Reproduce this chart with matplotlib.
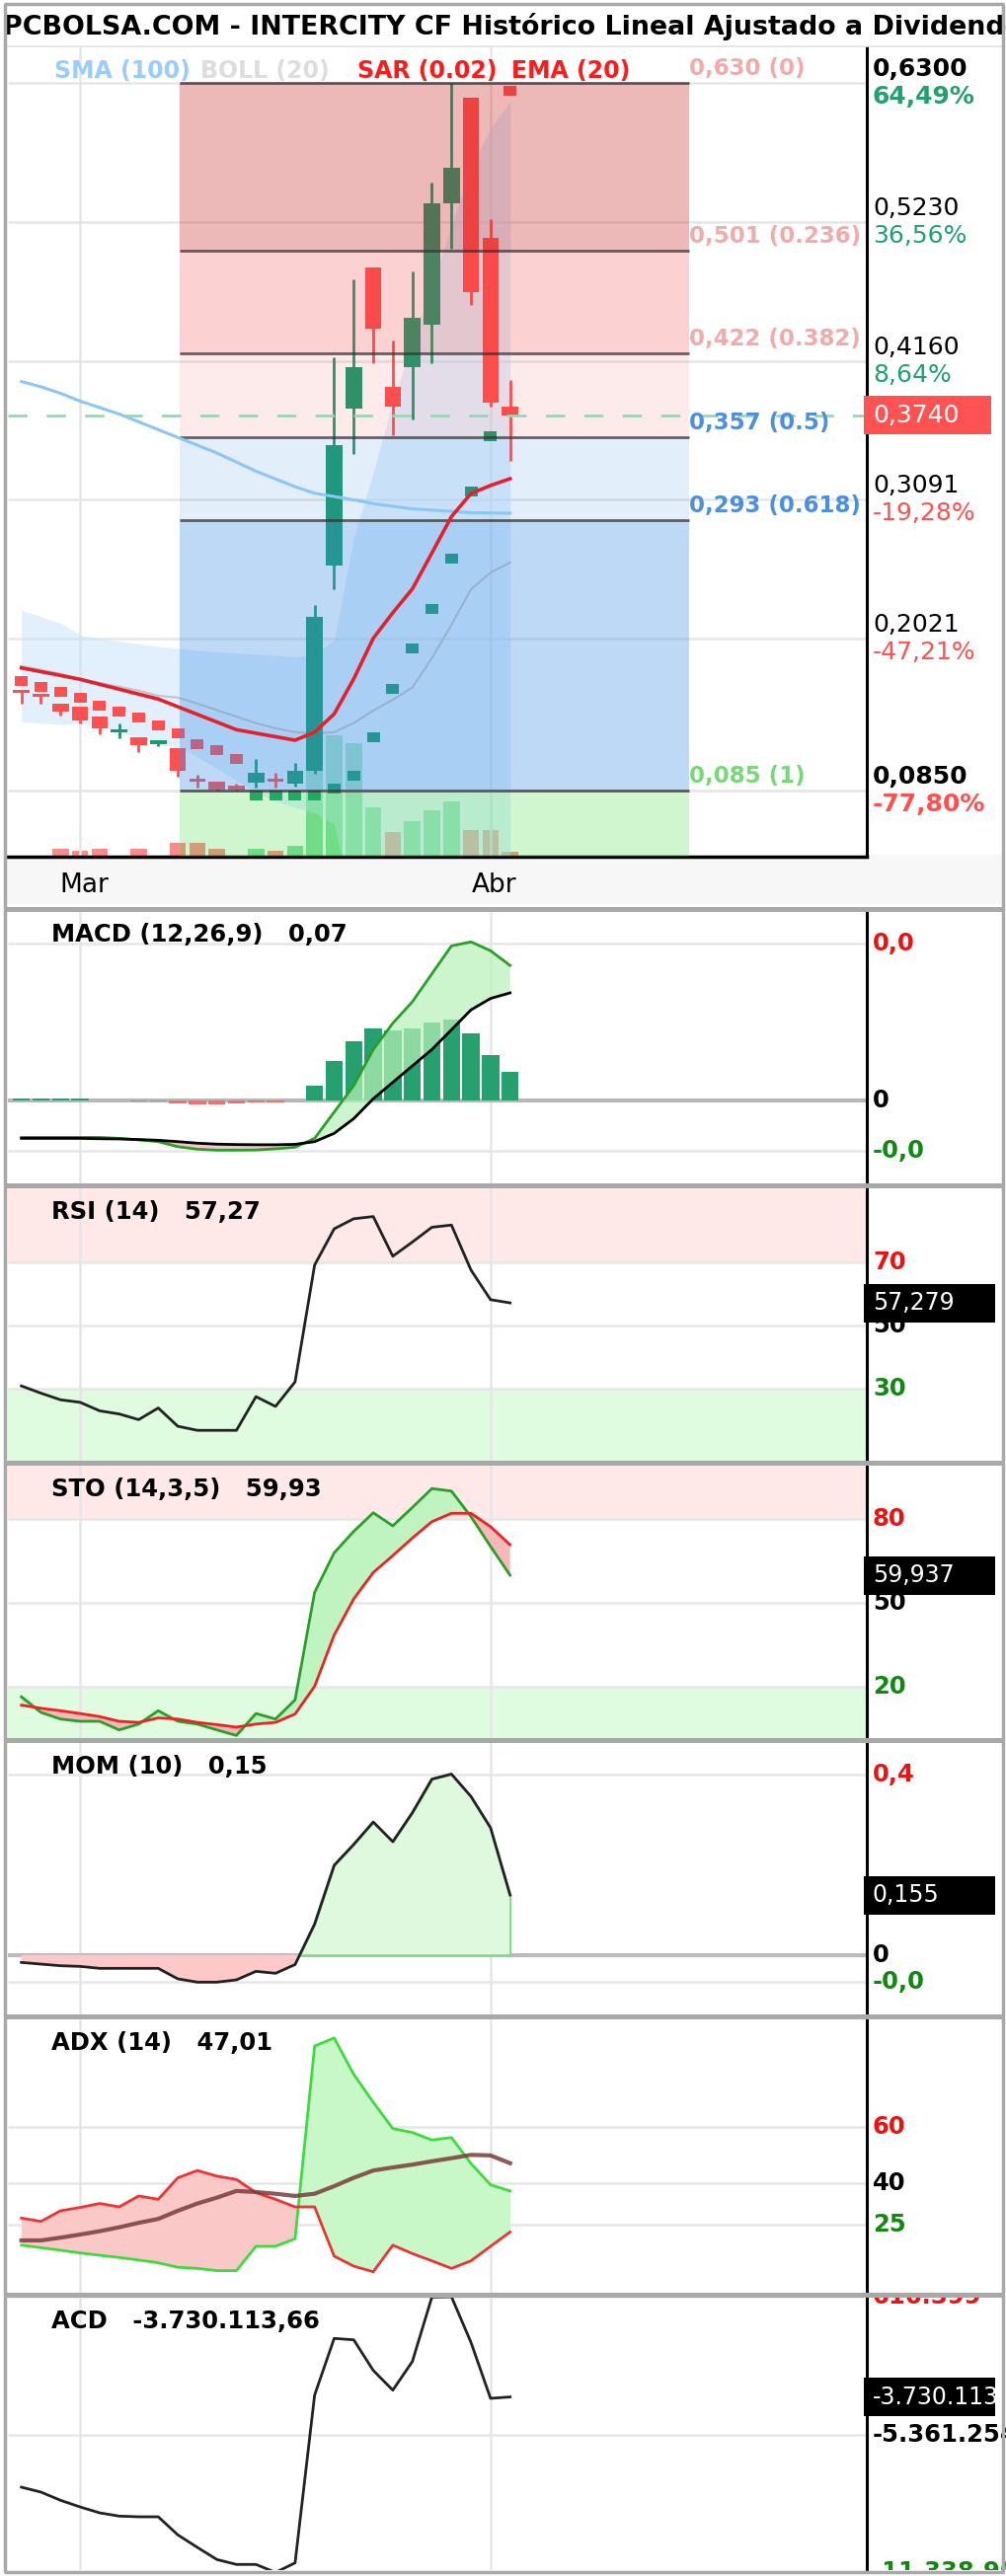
import numpy as np
import matplotlib
matplotlib.use("Agg")
import matplotlib.pyplot as plt
import matplotlib.transforms as mtransforms
from matplotlib.patches import Rectangle

plt.rcParams['font.family'] = ['DejaVu Sans']

# ---------------- data ----------------
days = np.arange(26)
month_pos = [3, 24]
month_labels = ['Mar', 'Abr']

opens = [0.161, 0.158, 0.152, 0.150, 0.142, 0.130, 0.126, 0.121, 0.118, 0.093, 0.092, 0.089, 0.091,
         0.094, 0.090, 0.100, 0.258, 0.379, 0.488, 0.396, 0.411, 0.444, 0.537, 0.619, 0.511, 0.381]
highs = [0.161, 0.158, 0.152, 0.150, 0.142, 0.137, 0.126, 0.124, 0.118, 0.097, 0.092, 0.090, 0.109,
         0.099, 0.106, 0.228, 0.419, 0.479, 0.488, 0.432, 0.485, 0.553, 0.630, 0.619, 0.525, 0.401]
lows = [0.152, 0.152, 0.143, 0.137, 0.128, 0.125, 0.115, 0.119, 0.096, 0.087, 0.085, 0.085, 0.087,
        0.087, 0.088, 0.098, 0.240, 0.344, 0.414, 0.359, 0.371, 0.414, 0.502, 0.459, 0.381, 0.339]
closes = [0.160, 0.157, 0.146, 0.139, 0.133, 0.132, 0.120, 0.124, 0.100, 0.092, 0.086, 0.086, 0.099,
          0.092, 0.100, 0.219, 0.351, 0.411, 0.441, 0.381, 0.449, 0.537, 0.565, 0.469, 0.384, 0.374]
volume = [0, 0, 18, 13, 18, 0, 18, 0, 31, 31, 18, 0, 18, 13, 24, 205, 271, 253, 110, 55, 79, 103,
          123, 59, 59, 11]  # miles de títulos
sar = [0.1694, 0.1648, 0.1608, 0.1567, 0.1504, 0.1458, 0.1415, 0.1352, 0.1289, 0.1205, 0.1162, 0.1093,
       0.0814, 0.0814, 0.0814, 0.0814, 0.0865, 0.0964, 0.1263, 0.1630, 0.1948, 0.2246, 0.2634, 0.3153,
       0.3579, 0.6240]
ema20 = [0.1795, 0.1766, 0.1737, 0.1707, 0.1669, 0.1631, 0.1593, 0.1555, 0.1496, 0.1437, 0.1378, 0.1319,
         0.1292, 0.1265, 0.1238, 0.1300, 0.1440, 0.1710, 0.2023, 0.2220, 0.2403, 0.2680, 0.2960, 0.3138,
         0.3200, 0.3252]
sma100 = [0.400, 0.396, 0.391, 0.385, 0.380, 0.375, 0.369, 0.363, 0.357, 0.351, 0.345, 0.338, 0.331,
          0.325, 0.319, 0.314, 0.3115, 0.309, 0.306, 0.304, 0.302, 0.301, 0.300, 0.299, 0.2988, 0.2986]
boll_up = [0.224, 0.219, 0.214, 0.205, 0.202, 0.200, 0.198, 0.196, 0.1945, 0.193, 0.192, 0.191, 0.190,
           0.189, 0.188, 0.190, 0.201, 0.280, 0.330, 0.385, 0.430, 0.475, 0.520, 0.565, 0.595, 0.616]
boll_mid = [0.181, 0.178, 0.175, 0.171, 0.168, 0.165, 0.162, 0.158, 0.1567, 0.152, 0.147, 0.142, 0.137,
            0.133, 0.130, 0.129, 0.130, 0.137, 0.1466, 0.155, 0.1643, 0.187, 0.2127, 0.240, 0.253, 0.2606]
boll_low = [0.138, 0.137, 0.136, 0.137, 0.134, 0.130, 0.126, 0.120, 0.119, 0.111, 0.102, 0.093, 0.084,
            0.077, 0.072, 0.068, 0.059, -0.006, -0.037, -0.075, -0.100, -0.100, -0.095, -0.085, -0.089,
            -0.095]

fib_levels = [0.630, 0.501, 0.422, 0.357, 0.293, 0.085]
fib_ratios = ['0', '0.236', '0.382', '0.5', '0.618', '1']
fib_span = (8.1, 34.16)

price_ticks = [0.6300, 0.5230, 0.4160, 0.3091, 0.2021, 0.0850]
price_labels = ['0,6300', '0,5230', '0,4160', '0,3091', '0,2021', '0,0850']
pct_labels = ['64,49%', '36,56%', '8,64%', '-19,28%', '-47,21%', '-77,80%']

macd = [-0.0191, -0.0191, -0.0191, -0.0191, -0.0191, -0.0196, -0.0204, -0.0213, -0.0239, -0.0252,
        -0.0257, -0.0257, -0.0256, -0.0250, -0.0242, -0.0196, -0.0060, 0.0077, 0.0264, 0.0400, 0.0511,
        0.0656, 0.0800, 0.0821, 0.0775, 0.0699]
macd_signal = [-0.0196, -0.0196, -0.0196, -0.0196, -0.0198, -0.0199, -0.0202, -0.0206, -0.0213, -0.0221,
               -0.0226, -0.0228, -0.0229, -0.0229, -0.0227, -0.0213, -0.0170, -0.0094, 0.0009, 0.0094,
               0.0179, 0.0264, 0.0366, 0.0469, 0.0528, 0.0557]
macd_hist = [0.001, 0.001, 0.001, 0.001, 0, 0, -0.0006, -0.0006, -0.0015, -0.002, -0.002, -0.0015,
             -0.0008, -0.0008, 0, 0.0077, 0.0204, 0.0307, 0.0375, 0.0363, 0.0375, 0.0404, 0.042, 0.0349,
             0.0234, 0.0148]
rsi = [30.9, 28.6, 26.5, 25.7, 23.0, 22.0, 20.2, 23.9, 18.1, 16.8, 16.8, 16.8, 27.5, 24.4, 32.2, 69.3,
       80.8, 84.0, 84.7, 72.1, 76.6, 81.3, 82.0, 67.7, 58.3, 57.279]
sto_k = [16.2, 10.6, 8.2, 7.4, 7.4, 4.3, 6.4, 11.2, 7.4, 6.4, 4.3, 2.3, 10.2, 8.2, 15.1, 53.8, 68.0,
         75.7, 82.4, 77.7, 84.3, 91.1, 90.2, 81.0, 70.3, 59.937]
sto_d = [13.2, 12.1, 11.2, 10.2, 9.1, 7.4, 7.0, 8.6, 8.2, 7.0, 6.2, 5.3, 6.4, 7.0, 10.0, 20.0, 38.4,
         51.4, 60.9, 67.0, 73.3, 79.2, 82.2, 82.2, 77.4, 70.9]
mom = [-0.0195, -0.0238, -0.028, -0.0297, -0.0348, -0.0348, -0.0348, -0.0348, -0.062, -0.0705, -0.0705,
       -0.0646, -0.0425, -0.0476, -0.025, 0.08, 0.232, 0.286, 0.344, 0.293, 0.368, 0.455, 0.468, 0.41,
       0.329, 0.155]
di_plus = [17.7, 16.8, 15.9, 14.9, 14.1, 13.3, 12.4, 11.4, 9.8, 9.4, 8.6, 8.6, 17.3, 17.3, 20.0, 88.9,
           91.8, 78.8, 68.8, 59.4, 58.0, 55.3, 56.2, 46.9, 39.3, 37.1]
di_minus = [27.4, 26.2, 30.0, 31.2, 32.6, 31.4, 35.3, 34.1, 41.8, 44.4, 42.4, 41.2, 36.5, 34.1, 31.4,
            31.4, 13.8, 10.2, 8.2, 17.7, 14.7, 12.1, 9.4, 12.1, 17.3, 22.4]
adx = [19.4, 19.4, 20.4, 21.5, 22.7, 24.1, 25.7, 27.1, 30.0, 32.6, 34.7, 37.1, 36.7, 36.1, 35.3, 36.1,
       38.8, 41.8, 44.4, 45.5, 46.5, 47.7, 48.8, 50.0, 49.8, 47.01]
acd = [-7642000, -7856000, -8211000, -8498000, -8755000, -8896000, -8926000, -8926000, -9709000,
       -10252000, -10779000, -10992000, -10992000, -11338907, -10924000, -3650000, -1193000, -1254000,
       -2580000, -3436000, -2195000, 600000, 616399, -1365000, -3791000, -3730113.66]
acd_ticks = [616399, -5361254, -11338907]
acd_labels = ['616.399', '-5.361.254', '-11.338.907']

# ---------------- layout (pixels) ----------------
W, H = 1020, 2610
GREEN = '#1b9a6e'
RED = '#ff4f4f'
GRID = '#e6e6e6'
XL = (-0.692, 43.25)

fig = plt.figure(figsize=(W / 100, H / 100), dpi=100)
fig.patch.set_facecolor('white')


def px_axes(x0, y0, x1, y1, z=1):
    a = fig.add_axes([x0 / W, 1 - y1 / H, (x1 - x0) / W, (y1 - y0) / H])
    a.set_zorder(z)
    return a


def clean(a, yl):
    a.set_xlim(XL)
    a.set_ylim(yl)
    a.set_xticks([])
    a.set_yticks([])
    for s in ('top', 'left', 'bottom'):
        a.spines[s].set_visible(False)
    a.spines['right'].set_color('black')
    a.spines['right'].set_linewidth(2.2)


def right_label(a, v, s, color='black', weight='bold', dy=0, va='center', size=17.5):
    tr = mtransforms.blended_transform_factory(a.transAxes, a.transData)
    return a.annotate(s, xy=(1, v), xycoords=tr, xytext=(6, dy), textcoords='offset pixels',
                      va=va, ha='left', color=color, fontweight=weight, fontsize=size,
                      annotation_clip=False)


def header(a, s):
    a.annotate(s, xy=(0, 1), xycoords='axes fraction', xytext=(44, -25), textcoords='offset pixels',
               va='center', ha='left', fontsize=17.5, fontweight='bold')


def value_tag(a, v, s, fc, x_right=1008, size=17):
    y = a.transData.transform((0, v))[1]
    x0 = a.transAxes.transform((1, 0))[0]
    rect = Rectangle((x0 - 3, y - 19.5), x_right - x0 + 3, 39, transform=mtransforms.IdentityTransform(),
                     facecolor=fc, edgecolor='none', zorder=20)
    fig.add_artist(rect)
    t = fig.text((x0 + 6) / W, y / H, s, color='white', fontsize=size, va='center', ha='left', zorder=21)
    t.set_clip_path(rect)


def grids(a, vals, lw=1.8):
    a.hlines(vals, XL[0], XL[1], color=GRID, lw=lw, zorder=0)
    for m in month_pos:
        a.axvline(m, color=GRID, lw=1.8, zorder=0)


# ---------------- main price panel ----------------
ax_vol = px_axes(8, 48, 878, 868, z=1)
ax_vol.set_xlim(XL)
ax_vol.set_ylim(0, 1807)
ax_vol.axis('off')
up_vol = np.r_[False, np.diff(closes) >= 0]
ax_vol.bar(days, volume, width=0.84, color=np.where(up_vol, '#28c85a', '#ff3c3c'), alpha=0.6, lw=0)

ax = px_axes(8, 48, 878, 868, z=2)
ax.patch.set_alpha(0)
clean(ax, (0.0341, 0.6574))
ax.spines['bottom'].set_visible(True)
ax.spines['bottom'].set_linewidth(2.5)
grids(ax, price_ticks)

ax.fill_between(days, boll_low, boll_up, color='#c4e2fa', alpha=0.5, lw=0, zorder=1)
ax.plot(days, boll_mid, color='#c4c4c4', lw=1.5, zorder=1.5)

o, hi, lo, c = map(np.asarray, (opens, highs, lows, closes))
ccol = np.where(c >= o, GREEN, RED)
ax.vlines(days, lo, hi, color=ccol, lw=2, zorder=2)
ax.bar(days, np.maximum(np.abs(c - o), 0.0025), bottom=np.minimum(o, c), width=0.84, color=ccol,
       lw=0, zorder=2.2)
sar_a = np.asarray(sar)
ax.bar(days, 0.0076, bottom=sar_a - 0.0038, width=0.66, lw=0, zorder=2.3,
       color=np.where(sar_a > c, RED, GREEN))

band_style = [('#c82828', 0.33), ('#f03c3c', 0.23), ('#f03c3c', 0.10),
              ('#3c8ce6', 0.14), ('#3c8ce6', 0.33), ('#3cdc3c', 0.24)]
band_edges = fib_levels + [ax.get_ylim()[0]]
for k, (col, al) in enumerate(band_style):
    ax.fill_between(fib_span, band_edges[k + 1], band_edges[k], color=col, alpha=al, lw=0, zorder=3)
ax.hlines(fib_levels, fib_span[0], fib_span[1], color='#333333', lw=2, alpha=0.75, zorder=4)
fib_colors = ['#f2aaaa', '#f2aaaa', '#f2aaaa', '#4a8fe0', '#4a8fe0', '#78d878']
for lvl, r, col in zip(fib_levels, fib_ratios, fib_colors):
    ax.annotate(f"{lvl:.3f}".replace('.', ',') + f" ({r})", xy=(fib_span[1], lvl), xytext=(0, 8),
                textcoords='offset pixels', va='baseline', ha='left', color=col, fontsize=16.5,
                fontweight='bold', annotation_clip=False, zorder=6)

ax.plot(days, sma100, color='#8cc6f5', lw=2.2, zorder=5)
ax.plot(days, ema20, color='#e3202b', lw=2.6, zorder=5)
ax.axhline(closes[-1], color='#9fd3b5', lw=2, dashes=(7, 7), zorder=5)

for k, (v, s, p) in enumerate(zip(price_ticks, price_labels, pct_labels)):
    w = 'bold' if k in (0, len(price_ticks) - 1) else 'normal'
    right_label(ax, v, s, weight=w, dy=2, va='bottom', size=18)
    right_label(ax, v, p, color='#22a070' if v > closes[-1] else RED, weight=w, dy=-2, va='top', size=18)
value_tag(ax, closes[-1], '0,3740', '#ff5252', x_right=1004, size=18)

xtr = mtransforms.blended_transform_factory(ax.transData, ax.transAxes)
for m, lab in zip(month_pos, month_labels):
    ax.annotate(lab, xy=(m, 0), xycoords=xtr, xytext=(4, -29), textcoords='offset pixels',
                ha='center', va='center', fontsize=19, annotation_clip=False)

# title + legend row
fig.text(3 / W, 1 - 27 / H, 'PCBOLSA.COM - INTERCITY CF Histórico Lineal Ajustado a Dividendos',
         fontsize=19.4, fontweight='bold', va='center', ha='left')
for xp, s, col in [(55, 'SMA (100)', '#99ccff'), (203, 'BOLL (20)', '#dddddd'),
                   (362, 'SAR (0.02)', '#ff1a1a'), (518, 'EMA (20)', '#ff1a1a')]:
    fig.text(xp / W, 1 - 72 / H, s, color=col, fontsize=17, fontweight='bold', va='center', zorder=30)

# ---------------- MACD ----------------
am = px_axes(8, 922, 878, 1199)
clean(am, (-0.0429, 0.0986))
grids(am, [0.081, -0.026])
am.axhline(0, color='#b8b8b8', lw=3, zorder=0.5)
hist = np.asarray(macd_hist)
am.bar(days, hist, width=0.88, color=np.where(hist >= 0, '#26a06e', '#ff6b6b'), lw=0, zorder=1)
mc, ms = np.asarray(macd), np.asarray(macd_signal)
am.fill_between(days, mc, ms, where=mc >= ms, interpolate=True, color='#b8f2b8', alpha=0.7, lw=0, zorder=2)
am.fill_between(days, mc, ms, where=mc < ms, interpolate=True, color='#f6b8b8', alpha=0.8, lw=0, zorder=2)
am.plot(days, mc, color='#2a9e2a', lw=2, zorder=3)
am.plot(days, ms, color='black', lw=2, zorder=3)
right_label(am, 0.081, '0,0', color='#ee1111')
right_label(am, 0, '0')
right_label(am, -0.026, '-0,0', color='#118811')
header(am, 'MACD (12,26,9)   0,07')

# ---------------- RSI ----------------
ar = px_axes(8, 1203, 878, 1480)
clean(ar, (7.15, 93.98))
ar.axhspan(70, 100, color='#ffe8e8', lw=0, zorder=0)
ar.axhspan(0, 30, color='#e0fce0', lw=0, zorder=0)
grids(ar, [70, 50, 30])
ar.plot(days, rsi, color='#222222', lw=2, zorder=3)
right_label(ar, 70, '70', color='#ee1111')
right_label(ar, 50, '50')
right_label(ar, 30, '30', color='#118811')
header(ar, 'RSI (14)   57,27')
value_tag(ar, rsi[-1], '57,279', 'black')

# ---------------- STO ----------------
ast = px_axes(8, 1484, 878, 1761)
clean(ast, (1.37, 99.7))
ast.axhspan(80, 100, color='#ffe8e8', lw=0, zorder=0)
ast.axhspan(0, 20, color='#e0fce0', lw=0, zorder=0)
grids(ast, [80, 50, 20])
k_, d_ = np.asarray(sto_k), np.asarray(sto_d)
ast.fill_between(days, k_, d_, where=k_ >= d_, interpolate=True, color='#bff3bf', lw=0, zorder=2)
ast.fill_between(days, k_, d_, where=k_ < d_, interpolate=True, color='#f7b8b8', lw=0, zorder=2)
ast.plot(days, k_, color='#2a9e2a', lw=2, zorder=3)
ast.plot(days, d_, color='#ee2222', lw=2, zorder=3)
right_label(ast, 80, '80', color='#ee1111')
right_label(ast, 50, '50')
right_label(ast, 20, '20', color='#118811')
header(ast, 'STO (14,3,5)   59,93')
value_tag(ast, sto_k[-1], '59,937', 'black')

# ---------------- MOM ----------------
amo = px_axes(8, 1765, 878, 2041)
clean(amo, (-0.154, 0.551))
grids(amo, [0.466, -0.0705])
amo.axhline(0, color='#bbbbbb', lw=3, zorder=0.5)
mo = np.asarray(mom)
amo.fill_between(days, mo, 0, where=mo >= 0, interpolate=True, facecolor='#dff9df',
                 edgecolor='#84d884', lw=1.5, zorder=1)
amo.fill_between(days, mo, 0, where=mo < 0, interpolate=True, facecolor='#fcc8c8', lw=0, zorder=1)
amo.plot(days, mo, color='#222222', lw=2, zorder=3)
right_label(amo, 0.466, '0,4', color='#ee1111')
right_label(amo, 0, '0')
right_label(amo, -0.0705, '-0,0', color='#118811')
header(amo, 'MOM (10)   0,15')
value_tag(amo, mom[-1], '0,155', 'black')

# ---------------- ADX ----------------
aa = px_axes(8, 2045, 878, 2323)
clean(aa, (0.7, 98.8))
grids(aa, [60, 40, 25])
dp, dm = np.asarray(di_plus), np.asarray(di_minus)
aa.fill_between(days, dp, dm, where=dp >= dm, interpolate=True, color='#c8f7c8', lw=0, zorder=1)
aa.fill_between(days, dp, dm, where=dp < dm, interpolate=True, color='#fbc8c8', lw=0, zorder=1)
aa.plot(days, dp, color='#3ddc3d', lw=2, zorder=3)
aa.plot(days, dm, color='#ee3333', lw=2, zorder=3)
aa.plot(days, adx, color='#7a3b3b', lw=3, alpha=0.85, zorder=3)
right_label(aa, 60, '60', color='#ee1111')
right_label(aa, 40, '40')
right_label(aa, 25, '25', color='#118811')
header(aa, 'ADX (14)   47,01')

# ---------------- ACD ----------------
ac = px_axes(8, 2327, 878, 2604)
clean(ac, (-11236180, 616373))
grids(ac, acd_ticks)
ac.plot(days, acd, color='#222222', lw=2, zorder=3)
clip_bb = mtransforms.Bbox.from_extents(878, H - 2604, W, H - 2327)
for v, s, col in zip(acd_ticks, acd_labels, ['#ee1111', 'black', '#118811']):
    t = right_label(ac, v, s, color=col)
    t.set_clip_box(clip_bb)
    t.set_clip_on(True)
header(ac, 'ACD   -3.730.113,66')
value_tag(ac, acd[-1], '-3.730.113,66', 'black')

# ---------------- frame, separators, x-label strip ----------------
fig.add_artist(Rectangle((7, 2 + H - 918), 1008, 50, transform=mtransforms.IdentityTransform(),
                         facecolor='#f7f7f7', edgecolor='none', zorder=-1))
ov = fig.add_axes([0, 0, 1, 1])
ov.set_zorder(10)
ov.set_xlim(0, W)
ov.set_ylim(H, 0)
ov.axis('off')
ov.patch.set_visible(False)
ov.hlines(47, 7, 1015, color='#e2e2e2', lw=1.2)
ov.hlines([920.5, 1201, 1482, 1763, 2043, 2325], 4, 1017, color='#a8a8a8', lw=3.6)
ov.hlines([4, 2606], 4, 1017, color='#a8a8a8', lw=2.5)
ov.vlines([5.5, 1016], 4, 2606, color='#a8a8a8', lw=2.5)

fig.savefig('out.png', dpi=100, facecolor='white')
